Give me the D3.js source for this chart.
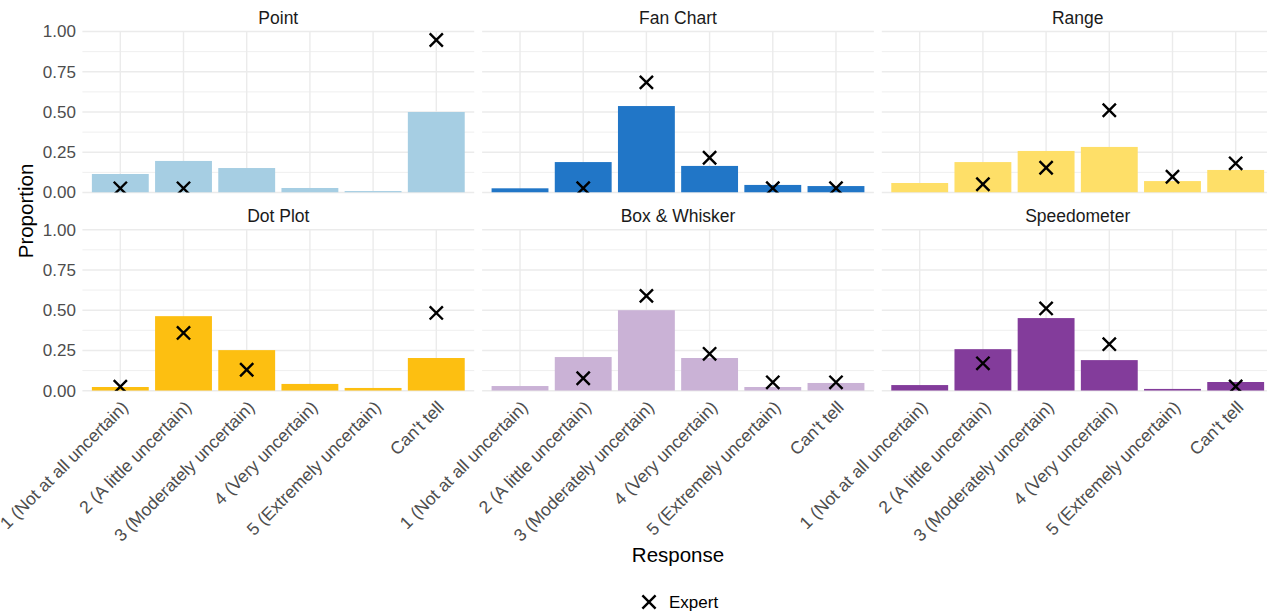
<!DOCTYPE html>
<html>
<head>
<meta charset="utf-8">
<script src="https://cdn.jsdelivr.net/npm/d3@7"></script>
<style>
  html, body { margin: 0; padding: 0; background: #ffffff; }
  svg { display: block; font-family: "Liberation Sans", Arial, sans-serif; }
</style>
</head>
<body>
<svg id="chart" width="1267" height="613"></svg>
<script>
// Response categories shared by every panel
const categories = [
  "1 (Not at all uncertain)",
  "2 (A little uncertain)",
  "3 (Moderately uncertain)",
  "4 (Very uncertain)",
  "5 (Extremely uncertain)",
  "Can't tell"
];

// Panel names (facet order, row by row)
const panelNames = ["Point", "Fan Chart", "Range", "Dot Plot", "Box & Whisker", "Speedometer"];
const panelColors = ["#A6CEE3", "#2176C7", "#FEDF68", "#FDBF11", "#CAB2D6", "#833C9B"];

// Public response proportions per visualisation
const pointPublic = [0.115, 0.196, 0.152, 0.028, 0.009, 0.500];
const fanPublic   = [0.026, 0.189, 0.537, 0.165, 0.047, 0.040];
const rangePublic = [0.059, 0.189, 0.258, 0.283, 0.071, 0.140];
const dotPublic   = [0.023, 0.463, 0.252, 0.042, 0.017, 0.203];
const boxPublic   = [0.029, 0.209, 0.500, 0.203, 0.023, 0.048];
const speedPublic = [0.035, 0.258, 0.451, 0.190, 0.011, 0.054];

// Expert response proportions (null = no expert gave that response)
const pointExpert = [0.026, 0.026, null, null, null, 0.947];
const fanExpert   = [null, 0.027, 0.684, 0.216, 0.027, 0.027];
const rangeExpert = [null, 0.051, 0.154, 0.511, 0.098, 0.181];
const dotExpert   = [0.025, 0.359, 0.130, null, null, 0.483];
const boxExpert   = [null, 0.077, 0.589, 0.229, 0.052, 0.052];
const speedExpert = [null, 0.170, 0.511, 0.289, null, 0.026];

const yTicks = [0, 0.25, 0.5, 0.75, 1];
const yMinor = [0.125, 0.375, 0.625, 0.875];

const publicSeries = [pointPublic, fanPublic, rangePublic, dotPublic, boxPublic, speedPublic];
const expertSeries = [pointExpert, fanExpert, rangeExpert, dotExpert, boxExpert, speedExpert];

// Layout
const panelLefts = [82.4, 482.1, 881.8];
const panelWidth = 391.8;
const rows = [
  { bottom: 192.5, top: 31.5 },
  { bottom: 390.7, top: 229.7 }
];

const svg = d3.select("#chart");
const gridColor = "#EBEBEB";
const tickColor = "#4D4D4D";

const xSymbol = d3.symbol().type(d3.symbolX).size(115);

panelNames.forEach((name, i) => {
  const col = i % 3, row = Math.floor(i / 3);
  const left = panelLefts[col];
  const right = left + panelWidth;
  const { top, bottom } = rows[row];

  const x = d3.scaleBand().domain(categories).range([left, right])
    .paddingInner(0.1).paddingOuter(0.15);
  const y = d3.scaleLinear().domain([0, 1]).range([bottom, top]);

  const g = svg.append("g").attr("class", "panel");

  // grid
  g.selectAll("line.minor").data(yMinor).join("line")
    .attr("x1", left).attr("x2", right)
    .attr("y1", d => y(d)).attr("y2", d => y(d))
    .attr("stroke", gridColor).attr("stroke-width", 0.8);
  g.selectAll("line.major").data(yTicks).join("line")
    .attr("x1", left).attr("x2", right)
    .attr("y1", d => y(d)).attr("y2", d => y(d))
    .attr("stroke", gridColor).attr("stroke-width", 1.4);
  g.selectAll("line.vgrid").data(categories).join("line")
    .attr("x1", d => x(d) + x.bandwidth() / 2).attr("x2", d => x(d) + x.bandwidth() / 2)
    .attr("y1", top).attr("y2", bottom)
    .attr("stroke", gridColor).attr("stroke-width", 1.4);

  const clipId = "clip" + i;
  svg.append("clipPath").attr("id", clipId).append("rect")
    .attr("x", left).attr("y", top).attr("width", panelWidth).attr("height", bottom - top);

  const marks = g.append("g").attr("clip-path", `url(#${clipId})`);

  // public bars
  const pub = categories.map((c, k) => ({ c, v: publicSeries[i][k] }));
  marks.selectAll("rect.bar").data(pub).join("rect")
    .attr("x", d => x(d.c)).attr("width", x.bandwidth())
    .attr("y", d => y(d.v)).attr("height", d => y(0) - y(d.v))
    .attr("fill", panelColors[i]);

  // expert crosses
  const exp = categories.map((c, k) => ({ c, v: expertSeries[i][k] })).filter(d => d.v !== null);
  marks.selectAll("path.expert").data(exp).join("path")
    .attr("d", xSymbol)
    .attr("transform", d => `translate(${x(d.c) + x.bandwidth() / 2},${y(d.v)})`)
    .attr("fill", "none").attr("stroke", "#000").attr("stroke-width", 2.4);

  // strip title
  svg.append("text")
    .attr("x", (left + right) / 2).attr("y", top - 8)
    .attr("text-anchor", "middle")
    .attr("font-size", 17.5).attr("fill", "#1A1A1A")
    .text(name);

  // y axis on the first column
  if (col === 0) {
    const ax = svg.append("g").attr("transform", `translate(${left},0)`)
      .call(d3.axisLeft(y).tickValues(yTicks).tickFormat(d3.format(".2f")).tickSize(0).tickPadding(6.5));
    ax.select(".domain").remove();
    ax.selectAll("text").attr("font-size", 17).attr("fill", tickColor)
      .attr("font-family", "Liberation Sans, Arial, sans-serif");
  }

  // x axis on the bottom row
  if (row === 1) {
    const ax = svg.append("g").attr("transform", `translate(0,${bottom})`)
      .call(d3.axisBottom(x).tickSize(0));
    ax.select(".domain").remove();
    ax.selectAll("text")
      .attr("font-size", 17.5).attr("fill", tickColor)
      .attr("font-family", "Liberation Sans, Arial, sans-serif")
      .attr("text-anchor", "end")
      .attr("x", 0).attr("y", 0).attr("dy", "0.71em")
      .attr("transform", "translate(0,9) rotate(-45)");
  }
});

// axis titles
svg.append("text")
  .attr("transform", "translate(33,211) rotate(-90)")
  .attr("text-anchor", "middle")
  .attr("font-size", 20.5).attr("fill", "#000")
  .text("Proportion");

svg.append("text")
  .attr("x", (panelLefts[0] + panelLefts[2] + panelWidth) / 2).attr("y", 562)
  .attr("text-anchor", "middle")
  .attr("font-size", 20.5).attr("fill", "#000")
  .text("Response");

// legend
const legend = svg.append("g").attr("transform", "translate(649,602)");
legend.append("path").attr("d", xSymbol)
  .attr("fill", "none").attr("stroke", "#000").attr("stroke-width", 2.4);
legend.append("text").attr("x", 20).attr("y", 0).attr("dy", "0.35em")
  .attr("font-size", 17).attr("fill", "#000")
  .text("Expert");
</script>
</body>
</html>
